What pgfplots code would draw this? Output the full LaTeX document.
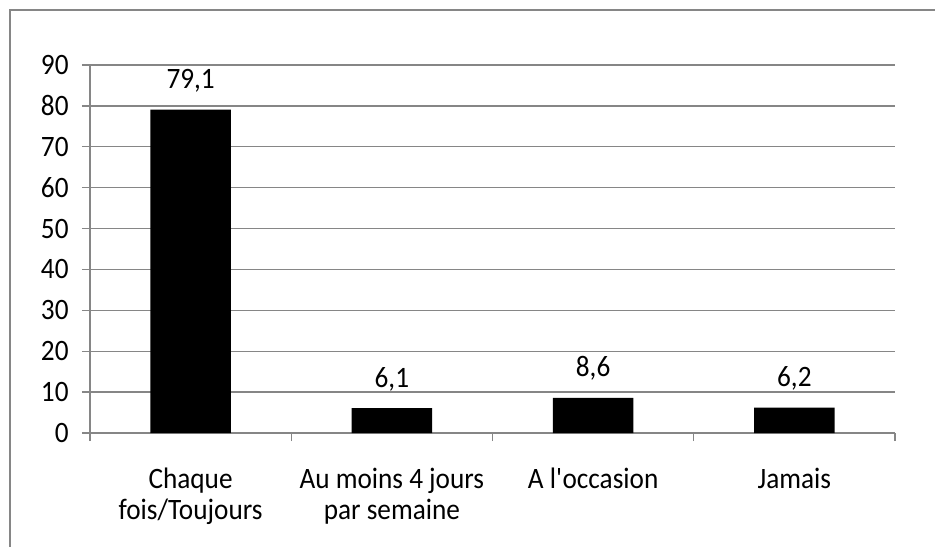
\documentclass[border=0pt]{standalone}
\usepackage{fontspec}
\setmainfont{Carlito}[FakeStretch=0.92]
\usepackage{pgfplots}
\pgfplotsset{compat=1.18}
\definecolor{gridc}{HTML}{868686}
\newcommand{\lblfont}{\fontsize{14.8}{15.5}\selectfont}
\begin{document}
\begin{tikzpicture}
\path[use as bounding box] (-45pt,-57pt) rectangle (422.5pt,216.5pt);
\draw[gridc, line width=0.7pt] (422.5pt,211.5pt) -- (-40pt,211.5pt) -- (-40pt,-57pt);
\begin{axis}[
  at={(0,0)}, anchor=south west,
  scale only axis, width=402.5pt, height=184pt,
  xmin=-0.5, xmax=3.5, ymin=0, ymax=90,
  ytick={0,10,...,90},
  xtick={-0.5,0.5,1.5,2.5,3.5},
  xticklabels={{Chaque\\fois/Toujours},{Au moins 4 jours\\par semaine},{A l\textquotesingle occasion},{Jamais},{}},
  axis x line*=bottom, axis y line*=left,
  axis line style={gridc, line width=0.7pt},
  ymajorgrids, major grid style={gridc, line width=0.7pt},
  tick align=outside, major tick length=4pt,
  tick style={gridc, line width=0.7pt},
  /pgf/number format/assume math mode=true,
  tick label style={font=\lblfont, inner sep=0pt},
  yticklabel style={anchor=east, xshift=-6.5pt},
  xticklabel style={anchor=north, align=center, xshift=50.3pt, yshift=-13.5pt},
  clip=false,
]
\addplot[ybar, fill=black, draw=none, bar width=0.4,
  nodes near coords={\pgfmathprintnumber[fixed,fixed zerofill,precision=1,use comma]{\pgfplotspointmeta}},
  every node near coord/.append style={font=\lblfont, black, anchor=base, inner sep=0pt, yshift=10.5pt}]
  coordinates {(0,79.1) (1,6.1) (2,8.6) (3,6.2)};
\end{axis}
\end{tikzpicture}
\end{document}
